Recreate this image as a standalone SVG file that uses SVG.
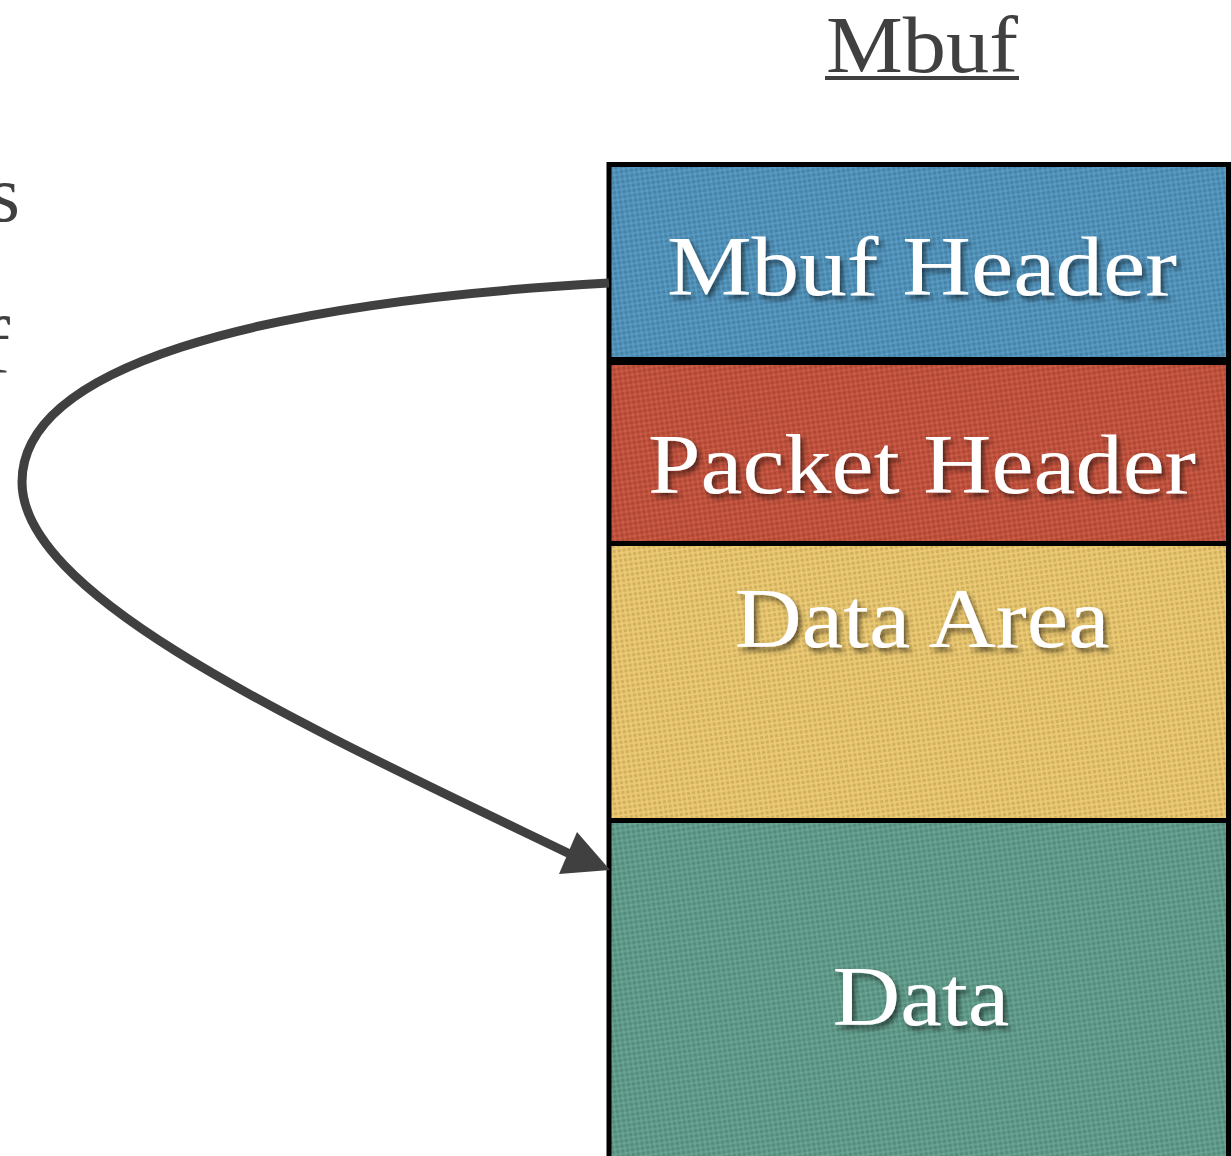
<svg xmlns="http://www.w3.org/2000/svg" width="1231" height="1156" viewBox="0 0 1231 1156">
<defs>
<style>
.lbl{font-family:"Palatino Linotype","Book Antiqua","Liberation Serif","DejaVu Serif",serif;fill:#ffffff;font-size:84px;text-anchor:middle;filter:url(#sh)}
.dark{font-family:"Palatino Linotype","Book Antiqua","Liberation Serif","DejaVu Serif",serif;fill:#404040;font-size:80px}
.div{stroke:#000;fill:none}
</style>
<filter id="sh" x="-10%" y="-30%" width="130%" height="160%">
<feDropShadow dx="3" dy="4" stdDeviation="2.5" flood-color="#000" flood-opacity="0.55"/>
</filter>
<pattern id="tex" width="5" height="5" patternUnits="userSpaceOnUse" patternTransform="rotate(-8)">
<rect x="0" y="0" width="3" height="3" fill="#000" opacity="0.11"/>
<rect x="3" y="3" width="2" height="2" fill="#fff" opacity="0.08"/>
</pattern>
</defs>
<rect width="1231" height="1156" fill="#ffffff"/>

<g id="title">
<text class="dark" x="922" y="72" text-anchor="middle" textLength="192" lengthAdjust="spacingAndGlyphs">Mbuf</text>
<rect x="825" y="76" width="194" height="4" fill="#404040"/>
</g>

<g id="cut-text">
<text class="dark" x="20" y="221" text-anchor="end">s</text>
<text class="dark" x="10" y="373" text-anchor="end">f</text>
</g>

<g id="mbuf-header">
<rect x="608" y="164" width="623" height="197" fill="#5194bd"/>
<rect x="608" y="164" width="623" height="197" fill="url(#tex)"/>
<text class="lbl" x="922" y="295" textLength="510" lengthAdjust="spacingAndGlyphs">Mbuf Header</text>
</g>
<g id="packet-header">
<rect x="608" y="361" width="623" height="183" fill="#c4523d"/>
<rect x="608" y="361" width="623" height="183" fill="url(#tex)"/>
<text class="lbl" x="922" y="493" textLength="548" lengthAdjust="spacingAndGlyphs">Packet Header</text>
</g>
<g id="data-area">
<rect x="608" y="544" width="623" height="277" fill="#eac76e"/>
<rect x="608" y="544" width="623" height="277" fill="url(#tex)"/>
<text class="lbl" x="922" y="647" textLength="375" lengthAdjust="spacingAndGlyphs">Data Area</text>
</g>
<g id="data">
<rect x="608" y="821" width="623" height="340" fill="#619d8c"/>
<rect x="608" y="821" width="623" height="340" fill="url(#tex)"/>
<text class="lbl" x="921" y="1025" textLength="177" lengthAdjust="spacingAndGlyphs">Data</text>
</g>

<g id="borders">
<rect x="609" y="164.5" width="619.5" height="1000" class="div" stroke-width="5"/>
<line x1="608" y1="361" x2="1231" y2="361" class="div" stroke-width="8"/>
<line x1="608" y1="543.5" x2="1231" y2="543.5" class="div" stroke-width="5"/>
<line x1="608" y1="820.5" x2="1231" y2="820.5" class="div" stroke-width="5"/>
</g>

<g id="connectors">
<path d="M 609 283 C 250 303, 22 368, 22 482 C 22 598, 300 724, 572 855" fill="none" stroke="#404040" stroke-width="9"/>
<polygon points="610,870 577,832 559,874" fill="#404040"/>
</g>
</svg>
